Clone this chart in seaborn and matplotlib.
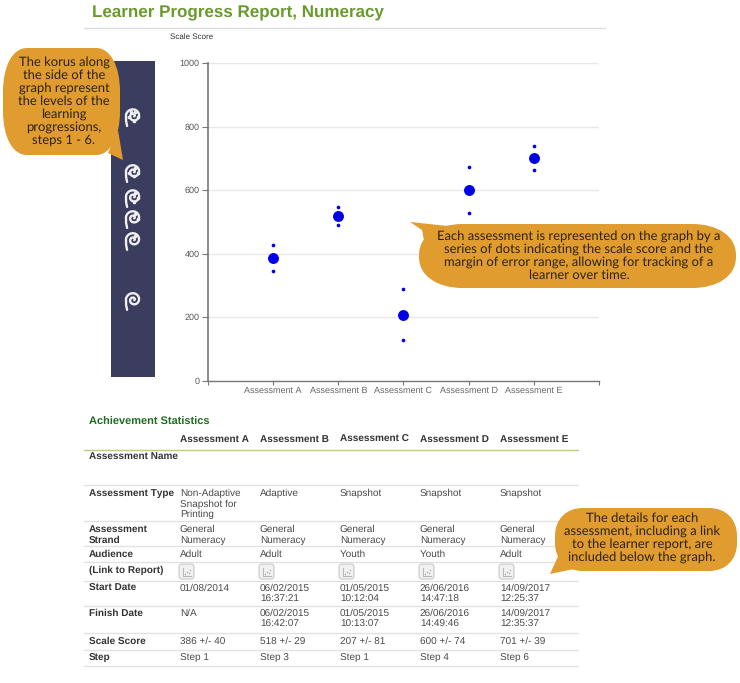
import numpy as np
import matplotlib
matplotlib.use('Agg')
import matplotlib.pyplot as plt
import seaborn as sns
from matplotlib.path import Path
from matplotlib.patches import PathPatch, Polygon, Rectangle, FancyBboxPatch

assessments = ['Assessment A', 'Assessment B', 'Assessment C', 'Assessment D', 'Assessment E']
scores = [386, 518, 207, 600, 701]
margins = [40, 29, 81, 74, 39]
y_ticks = [0, 200, 400, 600, 800, 1000]
# scale score where each koru sits, step 1 to 6
step_levels = [254, 443, 512, 578, 657, 833]

types = [['Non-Adaptive', 'Snapshot for', 'Printing'], ['Adaptive'], ['Snapshot'], ['Snapshot'], ['Snapshot']]
audience = ['Adult', 'Adult', 'Youth', 'Youth', 'Adult']
start_dates = [['01/08/2014'], ['06/02/2015', '16:37:21'], ['01/05/2015', '10:12:04'],
               ['26/06/2016', '14:47:18'], ['14/09/2017', '12:25:37']]
finish_dates = [['N/A'], ['06/02/2015', '16:42:07'], ['01/05/2015', '10:13:07'],
                ['26/06/2016', '14:49:46'], ['14/09/2017', '12:35:37']]
steps = ['Step 1', 'Step 3', 'Step 1', 'Step 4', 'Step 6']

BLUE = '#0000e6'
ORANGE = '#e09c2e'
NAVY = '#3a3d5e'
W, H = 740, 683

sns.set_style('whitegrid')
plt.rcParams['font.family'] = ['Liberation Sans', 'DejaVu Sans']
plt.rcParams['text.hinting'] = 'no_hinting'
plt.rcParams['text.hinting_factor'] = 1

fig = plt.figure(figsize=(W / 100, H / 100), dpi=100)

### the chart
ax = fig.add_axes([208 / W, 1 - 380.5 / H, (599 - 208) / W, (380.5 - 63) / H])
xpos = np.arange(len(assessments))
scores = np.array(scores)
margins = np.array(margins)
sns.scatterplot(x=xpos, y=scores + margins, s=7, color=BLUE, linewidth=0, ax=ax, zorder=3)
sns.scatterplot(x=xpos, y=scores - margins, s=7, color=BLUE, linewidth=0, ax=ax, zorder=3)
sns.scatterplot(x=xpos, y=scores, s=62, color=BLUE, linewidth=0, ax=ax, zorder=3)
ax.set_xlim(-1, 5)
ax.set_ylim(0, 1000)
ax.set_xticks(np.arange(-1, 6))
ax.set_xticklabels([''] + assessments + [''], fontsize=6.2, color='#666666')
ax.set_yticks(y_ticks)
ax.set_yticklabels([str(v) for v in y_ticks], fontsize=6.2, color='#555555')
ax.xaxis.grid(False)
ax.yaxis.grid(True, color='#e8e8e8', lw=1)
ax.tick_params(axis='x', length=3, width=0.8, color='#777777', pad=1.5, bottom=True)
ax.tick_params(axis='y', length=4, width=0.8, color='#777777', pad=2, left=True)
for s in ['top', 'right']:
    ax.spines[s].set_visible(False)
ax.spines['left'].set_color('#777777')
ax.spines['left'].set_linewidth(1.2)
ax.spines['bottom'].set_color('#777777')
ax.spines['bottom'].set_linewidth(1.0)

### everything else is laid out in pixels on a top layer
ov = fig.add_axes([0, 0, 1, 1], zorder=5)
ov.set_xlim(0, W)
ov.set_ylim(H, 0)
ov.axis('off')
ov.patch.set_alpha(0)

ov.text(92, 17.5, 'Learner Progress Report, Numeracy', fontsize=12.6, fontweight='bold',
        color='#6b9a2c', va='baseline')
ov.plot([84, 605], [27.5, 27.5], color='#dddddd', lw=1)
ov.text(170, 37, 'Scale Score', fontsize=5.6, color='#333333', va='center')

# koru band
ov.add_patch(Rectangle((111, 61), 44, 316, color=NAVY, lw=0))


def draw_koru(cy, step, cx=133.5):
    # spiral from the centre out to the left side, then the stem down
    t = np.linspace(0, 3.1 * np.pi, 160)
    r = 0.8 + 6.8 * t / t[-1]
    a = 1.05 * np.pi + t[-1] - t
    xs = cx + r * np.cos(a)
    ys = cy + r * np.sin(a)
    xs = np.append(xs, [cx - 7.4, cx - 6.4])
    ys = np.append(ys, [cy + 5.0, cy + 10.0])
    ov.plot(xs, ys, color='#f0f0f2', lw=1.7, solid_capstyle='round', solid_joinstyle='round')
    for k in range(step - 1):
        ang = -1.2 + k * 1.35
        ov.plot(cx + 4.6 * np.cos(ang), cy + 4.6 * np.sin(ang), 'o', ms=2.6, color='#f0f0f2', mew=0)


for i, level in enumerate(step_levels):
    draw_koru(380.5 - level / 1000 * 317.5, i + 1)

### table
ov.text(89, 425, 'Achievement Statistics', fontsize=8.0, fontweight='bold', color='#1f6b22', va='baseline')
cols = [180, 260, 340, 420, 500]
TXT = '#4a4a4a'


def cell(x, y, lines, bold=False):
    for k, line in enumerate(lines):
        ov.text(x, y + 3 + k * 10.5, line, fontsize=6.9, va='baseline',
                fontweight='bold' if bold else 'normal', color='#333333' if bold else TXT)


for x, name in zip(cols, assessments):
    cell(x, 439.4, [name], bold=True)

ov.plot([84, 578], [449.5, 449.5], color='#b9c987', lw=1)
for y in [485, 521, 546, 562, 581, 606, 633, 650, 666]:
    ov.plot([84, 578], [y, y], color='#e2e2e2', lw=1)

cell(89, 456, ['Assessment Name'], bold=True)
cell(89, 493, ['Assessment Type'], bold=True)
cell(89, 529, ['Assessment', 'Strand'], bold=True)
cell(89, 554, ['Audience'], bold=True)
cell(89, 570, ['(Link to Report)'], bold=True)
cell(89, 588, ['Start Date'], bold=True)
cell(89, 613, ['Finish Date'], bold=True)
cell(89, 641, ['Scale Score'], bold=True)
cell(89, 658, ['Step'], bold=True)

for i, x in enumerate(cols):
    cell(x, 493, types[i])
    cell(x, 529, ['General', 'Numeracy'])
    cell(x, 554, [audience[i]])
    cell(x, 588, start_dates[i])
    cell(x, 613, finish_dates[i])
    cell(x, 641, ['%d +/- %d' % (scores[i], margins[i])])
    cell(x, 658, [steps[i]])
    # link icon
    ov.add_patch(FancyBboxPatch((x - 1, 564), 15, 15, boxstyle='round,pad=0,rounding_size=3',
                                fc='#f1f1f1', ec='#d2d2d2', lw=1))
    ov.plot([x + 3, x + 3, x + 11], [568, 576, 576], color='#b4b4b4', lw=0.7)
    ov.plot([x + 5, x + 7, x + 9, x + 10], [574, 572, 573, 570], 's', ms=1, color='#b4b4b4', mew=0)


### callouts
def bubble(x0, y0, x1, y1, rx, ry, tail):
    k = 0.6
    verts = [(x0 + rx, y0), (x1 - rx, y0),
             (x1 - rx * (1 - k), y0), (x1, y0 + ry * (1 - k)), (x1, y0 + ry),
             (x1, y1 - ry),
             (x1, y1 - ry * (1 - k)), (x1 - rx * (1 - k), y1), (x1 - rx, y1),
             (x0 + rx, y1),
             (x0 + rx * (1 - k), y1), (x0, y1 - ry * (1 - k)), (x0, y1 - ry),
             (x0, y0 + ry),
             (x0, y0 + ry * (1 - k)), (x0 + rx * (1 - k), y0), (x0 + rx, y0)]
    codes = [Path.MOVETO, Path.LINETO, Path.CURVE4, Path.CURVE4, Path.CURVE4, Path.LINETO,
             Path.CURVE4, Path.CURVE4, Path.CURVE4, Path.LINETO,
             Path.CURVE4, Path.CURVE4, Path.CURVE4, Path.LINETO,
             Path.CURVE4, Path.CURVE4, Path.CURVE4]
    ov.add_patch(PathPatch(Path(verts, codes), fc=ORANGE, ec='none', zorder=6))
    ov.add_patch(Polygon(tail, closed=True, fc=ORANGE, ec='none', zorder=6))


def bubble_text(cx, y, lines, step=13.1):
    for k, line in enumerate(lines):
        ov.text(cx, y + 3.6 + k * step, line, ha='center', va='baseline', fontsize=9.1,
                family=['Lato', 'DejaVu Sans'], color='#2b2118', zorder=7)


bubble(3, 48, 120, 155, 24, 44, [(118, 130), (123, 160), (108, 153)])
bubble_text(64, 62, ['The korus along', 'the side of the', 'graph represent', 'the levels of the',
                     'learning', 'progressions,', 'steps 1 - 6.'])

bubble(419, 224, 736, 288, 44, 31, [(448, 226), (410, 222), (422, 230), (425, 246)])
bubble_text(579, 236, ['Each assessment is represented on the graph by a',
                       'series of dots indicating the scale score and the',
                       'margin of error range, allowing for tracking of a',
                       'learner over time.'])

bubble(555, 508, 737, 571, 28, 28, [(560, 552), (550, 574), (574, 569)])
bubble_text(642, 518, ['The details for each', 'assessment, including a link',
                       'to the learner report, are', 'included below the graph.'])

fig.savefig('out.png', dpi=100)
